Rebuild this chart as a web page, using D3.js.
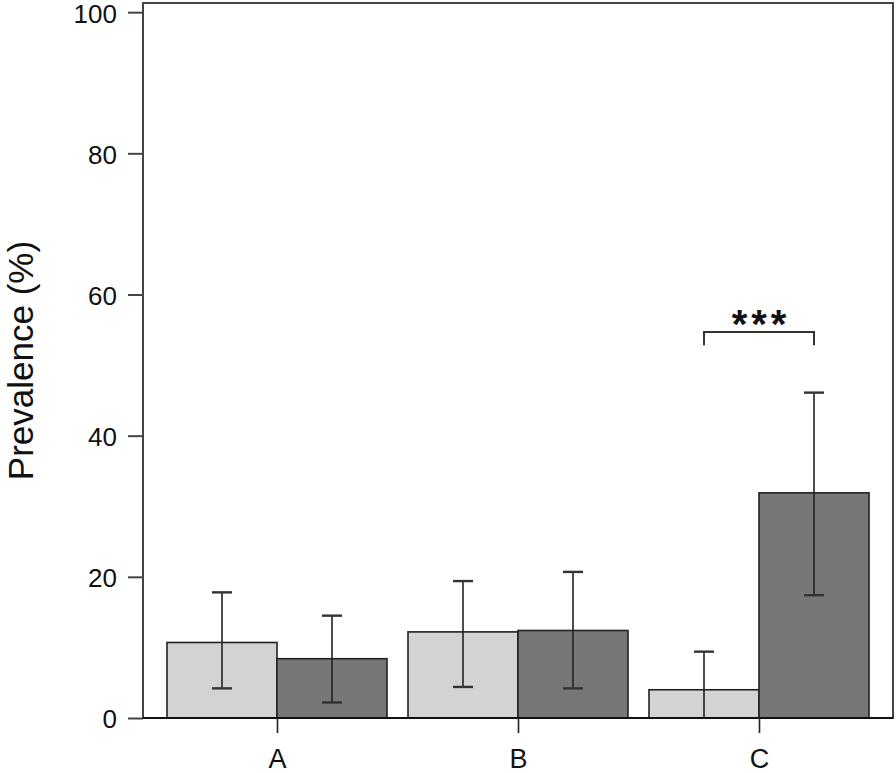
<!DOCTYPE html>
<html>
<head>
<meta charset="utf-8">
<script src="https://cdn.jsdelivr.net/npm/d3@7"></script>
<style>
  body { margin: 0; background: #fff; }
  text { font-family: "Liberation Sans", Arial, sans-serif; }
</style>
</head>
<body>
<div id="chart"></div>
<script>
// data
const categories = ["A", "B", "C"];
const groups = ["g1", "g2"];
const prevLight = [10.7, 12.2, 4.0];
const prevDark = [8.4, 12.4, 31.9];
const lowLight = [4.2, 4.4, 0];
const highLight = [17.8, 19.4, 9.4];
const lowDark = [2.2, 4.2, 17.4];
const highDark = [14.5, 20.7, 46.1];
const yTicks = [0, 20, 40, 60, 80, 100];

const width = 896, height = 773;
const margin = { top: 3, right: 3, bottom: 55, left: 143 };

let svg = d3.select("#chart")
    .append("svg")
    .attr("width", width)
    .attr("height", height);

let x = d3.scalePoint()
    .domain(categories)
    .range([margin.left, width - margin.right])
    .padding(0.556);

let y = d3.scaleLinear()
    .domain([0, 101.3])
    .range([718, margin.top]);

const barW = 110;
let xs = d3.scaleBand().domain(groups).range([-barW, barW]);

let rows = [];
categories.forEach((c, i) => {
    rows.push({ cat: c, g: "g1", v: prevLight[i], lo: lowLight[i], hi: highLight[i], fill: "#d3d3d3" });
    rows.push({ cat: c, g: "g2", v: prevDark[i], lo: lowDark[i], hi: highDark[i], fill: "#777777" });
});

// frame
svg.append("rect")
    .attr("x", margin.left)
    .attr("y", margin.top)
    .attr("width", width - margin.right - margin.left)
    .attr("height", y(0) - margin.top)
    .attr("fill", "none")
    .attr("stroke", "#444")
    .attr("stroke-width", 2);

// bars
svg.selectAll(".bar").data(rows)
    .enter()
    .append("rect")
    .attr("x", d => x(d.cat) + xs(d.g))
    .attr("y", d => y(d.v))
    .attr("width", xs.bandwidth())
    .attr("height", d => y(0) - y(d.v))
    .attr("fill", d => d.fill)
    .attr("stroke", "#222")
    .attr("stroke-width", 1.6);

// error bars
let err = svg.selectAll(".err").data(rows)
    .enter()
    .append("g")
    .attr("stroke", "#222");
err.append("line")
    .attr("x1", d => x(d.cat) + xs(d.g) + xs.bandwidth() / 2)
    .attr("x2", d => x(d.cat) + xs(d.g) + xs.bandwidth() / 2)
    .attr("y1", d => y(d.lo))
    .attr("y2", d => y(d.hi))
    .attr("stroke-width", 1.6);
err.each(function (d) {
    let cx = x(d.cat) + xs(d.g) + xs.bandwidth() / 2;
    [d.lo, d.hi].forEach(v => {
        if (v <= 0) return;
        d3.select(this).append("line")
            .attr("x1", cx - 10).attr("x2", cx + 10)
            .attr("y1", y(v)).attr("y2", y(v))
            .attr("stroke", "#333")
            .attr("stroke-width", 2.4);
    });
});

// y axis
let yAxis = svg.append("g")
    .attr("transform", `translate(${margin.left},0)`)
    .call(d3.axisLeft(y).tickValues(yTicks).tickSize(15).tickPadding(11));
yAxis.select(".domain").remove();
yAxis.selectAll("line").attr("stroke", "#444").attr("stroke-width", 2);
yAxis.selectAll("text").attr("font-size", 26).attr("fill", "#111")
    .attr("dy", "0.38em")
    .style("font-family", "Liberation Sans, Arial, sans-serif");

// x axis
let xAxis = svg.append("g")
    .attr("transform", `translate(0,${y(0)})`)
    .call(d3.axisBottom(x).tickSize(15));
xAxis.select(".domain").attr("d", `M${margin.left},0H${width - margin.right}`)
    .attr("stroke", "#111").attr("stroke-width", 2);
xAxis.selectAll("line").attr("stroke", "#222").attr("stroke-width", 1.6);
xAxis.selectAll("text").attr("font-size", 27).attr("fill", "#111")
    .attr("y", 50).attr("dy", null)
    .style("font-family", "Liberation Sans, Arial, sans-serif");

// y label
svg.append("text")
    .attr("transform", `translate(33,${(y(0) + margin.top) / 2}) rotate(-90)`)
    .attr("text-anchor", "middle")
    .attr("font-size", 35)
    .attr("fill", "#111")
    .text("Prevalence (%)");

// significance bracket for C
let bx1 = x("C") + xs("g1") + xs.bandwidth() / 2;
let bx2 = x("C") + xs("g2") + xs.bandwidth() / 2;
svg.append("path")
    .attr("d", `M${bx1},${y(52.8)}V${y(54.7)}H${bx2}V${y(52.8)}`)
    .attr("fill", "none")
    .attr("stroke", "#333")
    .attr("stroke-width", 2);
svg.append("text")
    .attr("x", (bx1 + bx2) / 2 + 2)
    .attr("y", 338)
    .attr("text-anchor", "middle")
    .attr("font-size", 40)
    .attr("font-weight", "bold")
    .attr("letter-spacing", 4)
    .attr("fill", "#111")
    .text("***");
</script>
</body>
</html>
